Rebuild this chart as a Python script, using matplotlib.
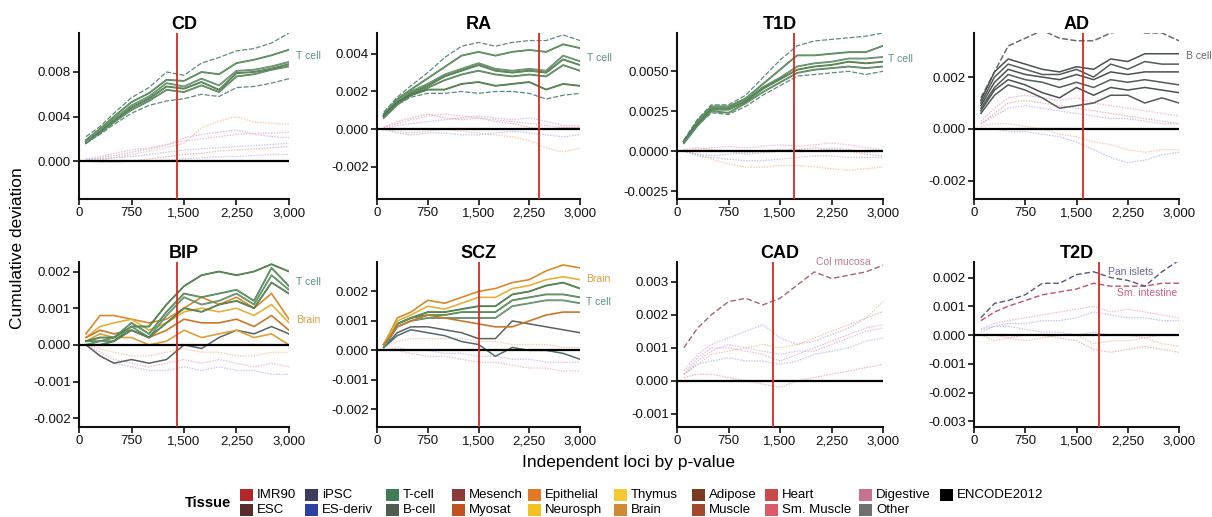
import matplotlib
matplotlib.use("Agg")
import matplotlib.pyplot as plt
from matplotlib.patches import Rectangle

plt.rcParams['font.family'] = ['Liberation Sans', 'DejaVu Sans']

# ---------------- data ----------------
X_LOCI = [100, 300, 500, 750, 1000, 1250, 1500, 1750, 2000, 2250, 2500, 2750, 3000]
X_TICKS = [0, 750, 1500, 2250, 3000]
X_TICK_LABELS = ["0", "750", "1,500", "2,250", "3,000"]

TITLES = ["CD", "RA", "T1D", "AD", "BIP", "SCZ", "CAD", "T2D"]
CUTOFFS = [1400, 2400, 1700, 1600, 1400, 1500, 1400, 1825]

Y_TICKS = [
    [0.0, 0.004, 0.008],
    [-0.002, 0.0, 0.002, 0.004],
    [-0.0025, 0.0, 0.0025, 0.005],
    [-0.002, 0.0, 0.002],
    [-0.002, -0.001, 0.0, 0.001, 0.002],
    [-0.002, -0.001, 0.0, 0.001, 0.002],
    [-0.001, 0.0, 0.001, 0.002, 0.003],
    [-0.003, -0.002, -0.001, 0.0, 0.001, 0.002],
]
Y_TICK_LABELS = [
    ["0.000", "0.004", "0.008"],
    ["-0.002", "0.000", "0.002", "0.004"],
    ["-0.0025", "0.0000", "0.0025", "0.0050"],
    ["-0.002", "0.000", "0.002"],
    ["-0.002", "-0.001", "0.000", "0.001", "0.002"],
    ["-0.002", "-0.001", "0.000", "0.001", "0.002"],
    ["-0.001", "0.000", "0.001", "0.002", "0.003"],
    ["-0.003", "-0.002", "-0.001", "0.000", "0.001", "0.002"],
]

# CD
cd_tcell = [
    [0.0022, 0.0031, 0.0043, 0.0057, 0.0066, 0.0080, 0.0077, 0.0088, 0.0093, 0.0099, 0.0101, 0.0106, 0.0115],
    [0.0019, 0.0029, 0.0040, 0.0053, 0.0061, 0.0073, 0.0072, 0.0080, 0.0078, 0.0088, 0.0091, 0.0095, 0.0100],
    [0.0017, 0.0027, 0.0038, 0.0050, 0.0058, 0.0070, 0.0067, 0.0074, 0.0068, 0.0081, 0.0082, 0.0085, 0.0089],
    [0.0016, 0.0026, 0.0036, 0.0048, 0.0056, 0.0067, 0.0065, 0.0071, 0.0064, 0.0079, 0.0080, 0.0083, 0.0087],
    [0.0017, 0.0025, 0.0035, 0.0046, 0.0054, 0.0064, 0.0062, 0.0068, 0.0062, 0.0076, 0.0078, 0.0082, 0.0085],
    [0.0016, 0.0024, 0.0033, 0.0043, 0.0050, 0.0054, 0.0056, 0.0060, 0.0058, 0.0066, 0.0067, 0.0070, 0.0074],
]
cd_other = [
    [0.0002, 0.0004, 0.0007, 0.0010, 0.0012, 0.0015, 0.0018, 0.0020, 0.0022, 0.0024, 0.0025, 0.0025, 0.0026],
    [0.0001, 0.0003, 0.0005, 0.0008, 0.0011, 0.0014, 0.0021, 0.0024, 0.0026, 0.0028, 0.0024, 0.0022, 0.0021],
    [0.0000, 0.0001, 0.0003, 0.0006, 0.0009, 0.0012, 0.0016, 0.0030, 0.0036, 0.0040, 0.0035, 0.0034, 0.0033],
    [0.0001, 0.0002, 0.0003, 0.0004, 0.0006, 0.0008, 0.0010, 0.0011, 0.0012, 0.0013, 0.0014, 0.0015, 0.0016],
    [0.0000, 0.0000, -0.0001, 0.0000, 0.0002, 0.0004, 0.0006, 0.0007, 0.0009, 0.0010, 0.0011, 0.0012, 0.0013],
    [0.0000, -0.0001, -0.0001, 0.0000, 0.0000, 0.0001, 0.0002, 0.0003, 0.0004, 0.0004, 0.0005, 0.0006, 0.0006],
]

# RA
ra_tcell = [
    [0.0009, 0.0017, 0.0023, 0.0030, 0.0038, 0.0044, 0.0046, 0.0044, 0.0046, 0.0047, 0.0047, 0.0050, 0.0047],
    [0.0008, 0.0016, 0.0021, 0.0027, 0.0033, 0.0039, 0.0041, 0.0039, 0.0041, 0.0042, 0.0041, 0.0045, 0.0043],
    [0.0007, 0.0015, 0.0020, 0.0024, 0.0029, 0.0032, 0.0035, 0.0032, 0.0031, 0.0032, 0.0031, 0.0039, 0.0036],
    [0.0007, 0.0014, 0.0019, 0.0023, 0.0028, 0.0031, 0.0034, 0.0031, 0.0030, 0.0031, 0.0030, 0.0037, 0.0034],
    [0.0006, 0.0013, 0.0018, 0.0022, 0.0026, 0.0029, 0.0031, 0.0029, 0.0028, 0.0029, 0.0028, 0.0034, 0.0031],
    [0.0007, 0.0014, 0.0018, 0.0021, 0.0021, 0.0024, 0.0025, 0.0023, 0.0024, 0.0025, 0.0021, 0.0024, 0.0023],
    [0.0006, 0.0013, 0.0017, 0.0019, 0.0019, 0.0020, 0.0019, 0.0020, 0.0020, 0.0019, 0.0016, 0.0018, 0.0019],
]
ra_other = [
    [0.0001, 0.0003, 0.0005, 0.0007, 0.0008, 0.0007, 0.0006, 0.0005, 0.0004, 0.0003, 0.0002, 0.0001, 0.0001],
    [0.0000, 0.0002, 0.0003, 0.0004, 0.0005, 0.0006, 0.0007, 0.0006, 0.0005, 0.0006, 0.0004, 0.0002, 0.0002],
    [0.0000, -0.0001, -0.0002, -0.0001, 0.0000, -0.0001, -0.0002, -0.0003, -0.0004, -0.0006, -0.0010, -0.0012, -0.0010],
    [0.0000, -0.0002, -0.0003, -0.0002, -0.0002, -0.0003, -0.0003, -0.0002, -0.0001, -0.0002, -0.0003, -0.0004, -0.0003],
    [0.0001, 0.0004, 0.0006, 0.0008, 0.0006, 0.0005, 0.0006, 0.0004, 0.0003, 0.0001, 0.0000, 0.0001, 0.0001],
]

# T1D
t1d_tcell = [
    [0.0007, 0.0020, 0.0029, 0.0029, 0.0035, 0.0046, 0.0057, 0.0066, 0.0069, 0.0070, 0.0071, 0.0072, 0.0074],
    [0.0006, 0.0019, 0.0028, 0.0028, 0.0033, 0.0042, 0.0051, 0.0060, 0.0060, 0.0061, 0.0062, 0.0062, 0.0066],
    [0.0006, 0.0018, 0.0027, 0.0027, 0.0032, 0.0040, 0.0046, 0.0053, 0.0055, 0.0056, 0.0058, 0.0058, 0.0059],
    [0.0006, 0.0017, 0.0026, 0.0026, 0.0031, 0.0039, 0.0045, 0.0051, 0.0053, 0.0054, 0.0056, 0.0055, 0.0056],
    [0.0005, 0.0016, 0.0025, 0.0024, 0.0030, 0.0037, 0.0043, 0.0049, 0.0051, 0.0052, 0.0053, 0.0052, 0.0053],
    [0.0005, 0.0016, 0.0024, 0.0023, 0.0028, 0.0035, 0.0041, 0.0047, 0.0048, 0.0049, 0.0050, 0.0048, 0.0050],
]
t1d_other = [
    [0.0000, 0.0001, 0.0002, 0.0003, 0.0002, 0.0003, 0.0004, 0.0003, 0.0004, 0.0005, 0.0004, 0.0002, 0.0001],
    [0.0000, -0.0003, -0.0004, -0.0005, -0.0006, -0.0006, -0.0005, -0.0004, -0.0003, -0.0003, -0.0004, -0.0004, -0.0004],
    [0.0000, -0.0002, -0.0005, -0.0008, -0.0010, -0.0010, -0.0009, -0.0009, -0.0010, -0.0011, -0.0012, -0.0011, -0.0010],
    [0.0000, -0.0002, -0.0003, -0.0002, -0.0001, 0.0000, 0.0001, 0.0001, 0.0000, 0.0002, 0.0001, -0.0001, 0.0000],
    [0.0001, 0.0002, 0.0001, 0.0000, -0.0002, -0.0001, 0.0000, 0.0001, 0.0002, 0.0001, 0.0000, -0.0002, -0.0003],
]

# AD
ad_bcell = [
    [0.0012, 0.0022, 0.0032, 0.0035, 0.0038, 0.0035, 0.0034, 0.0034, 0.0037, 0.0038, 0.0037, 0.0037, 0.0034],
    [0.0011, 0.0022, 0.0027, 0.0025, 0.0023, 0.0022, 0.0024, 0.0023, 0.0027, 0.0026, 0.0029, 0.0029, 0.0029],
    [0.0010, 0.0020, 0.0025, 0.0023, 0.0021, 0.0021, 0.0023, 0.0020, 0.0025, 0.0023, 0.0026, 0.0025, 0.0025],
    [0.0009, 0.0018, 0.0023, 0.0021, 0.0020, 0.0019, 0.0021, 0.0019, 0.0022, 0.0021, 0.0022, 0.0022, 0.0022],
    [0.0008, 0.0016, 0.0021, 0.0019, 0.0018, 0.0016, 0.0018, 0.0016, 0.0019, 0.0018, 0.0019, 0.0018, 0.0017],
    [0.0007, 0.0015, 0.0019, 0.0017, 0.0014, 0.0012, 0.0016, 0.0013, 0.0016, 0.0015, 0.0016, 0.0015, 0.0014],
    [0.0006, 0.0013, 0.0017, 0.0015, 0.0012, 0.0008, 0.0009, 0.0010, 0.0013, 0.0013, 0.0010, 0.0012, 0.0010],
]
ad_other = [
    [0.0003, 0.0008, 0.0012, 0.0013, 0.0012, 0.0011, 0.0012, 0.0010, 0.0009, 0.0008, 0.0007, 0.0006, 0.0005],
    [0.0002, 0.0005, 0.0008, 0.0009, 0.0008, 0.0007, 0.0006, 0.0005, 0.0004, 0.0004, 0.0003, 0.0002, 0.0002],
    [0.0001, 0.0002, 0.0002, 0.0001, 0.0000, -0.0002, -0.0003, -0.0005, -0.0006, -0.0008, -0.0009, -0.0008, -0.0008],
    [0.0000, 0.0000, -0.0001, -0.0001, -0.0002, -0.0003, -0.0005, -0.0008, -0.0011, -0.0013, -0.0012, -0.0010, -0.0009],
    [0.0002, 0.0006, 0.0010, 0.0011, 0.0010, 0.0009, 0.0008, 0.0007, 0.0006, 0.0005, 0.0004, 0.0003, 0.0002],
]

# BIP
bip_tcell = [
    [0.0001, 0.0002, 0.0002, 0.0005, 0.0005, 0.0011, 0.0016, 0.0019, 0.0020, 0.0019, 0.0020, 0.0022, 0.0020],
    [0.0001, 0.0001, 0.0002, 0.0006, 0.0003, 0.0009, 0.0014, 0.0013, 0.0014, 0.0015, 0.0012, 0.0021, 0.0016],
    [0.0000, 0.0001, 0.0001, 0.0005, 0.0002, 0.0008, 0.0013, 0.0011, 0.0012, 0.0014, 0.0011, 0.0019, 0.0015],
    [0.0000, 0.0000, 0.0001, 0.0004, 0.0002, 0.0006, 0.0010, 0.0009, 0.0011, 0.0012, 0.0010, 0.0017, 0.0014],
]
bip_brain = [
    [0.0003, 0.0008, 0.0008, 0.0007, 0.0006, 0.0007, 0.0010, 0.0013, 0.0011, 0.0013, 0.0010, 0.0014, 0.0007],
    [0.0002, 0.0005, 0.0006, 0.0007, 0.0004, 0.0006, 0.0009, 0.0010, 0.0009, 0.0010, 0.0008, 0.0011, 0.0006],
    [0.0002, 0.0004, 0.0003, 0.0004, 0.0002, 0.0004, 0.0007, 0.0006, 0.0006, 0.0007, 0.0005, 0.0008, 0.0004],
    [0.0001, 0.0003, 0.0002, 0.0002, 0.0000, 0.0001, 0.0004, 0.0002, 0.0003, 0.0004, 0.0002, 0.0003, 0.0000],
]
bip_dark = [
    [0.0000, -0.0003, -0.0005, -0.0004, -0.0005, -0.0004, 0.0000, -0.0001, 0.0002, 0.0004, 0.0003, 0.0005, 0.0003],
]
bip_other = [
    [0.0000, -0.0002, -0.0004, -0.0005, -0.0006, -0.0005, -0.0004, -0.0005, -0.0004, -0.0005, -0.0006, -0.0005, -0.0006],
    [0.0000, -0.0003, -0.0005, -0.0006, -0.0007, -0.0007, -0.0006, -0.0007, -0.0006, -0.0007, -0.0007, -0.0008, -0.0008],
    [0.0000, -0.0001, -0.0002, -0.0003, -0.0003, -0.0002, -0.0001, -0.0002, -0.0002, -0.0003, -0.0003, -0.0002, -0.0002],
]

# SCZ
scz_brain = [
    [0.0002, 0.0011, 0.0013, 0.0017, 0.0016, 0.0018, 0.0020, 0.0021, 0.0023, 0.0024, 0.0027, 0.0029, 0.0028],
    [0.0002, 0.0010, 0.0012, 0.0015, 0.0014, 0.0016, 0.0018, 0.0018, 0.0021, 0.0022, 0.0024, 0.0025, 0.0024],
    [0.0002, 0.0008, 0.0010, 0.0012, 0.0011, 0.0010, 0.0009, 0.0008, 0.0008, 0.0010, 0.0012, 0.0013, 0.0013],
]
scz_tcell = [
    [0.0002, 0.0009, 0.0011, 0.0013, 0.0013, 0.0014, 0.0015, 0.0015, 0.0019, 0.0020, 0.0022, 0.0023, 0.0021],
    [0.0002, 0.0009, 0.0011, 0.0012, 0.0012, 0.0013, 0.0013, 0.0013, 0.0017, 0.0018, 0.0019, 0.0019, 0.0018],
    [0.0001, 0.0008, 0.0010, 0.0011, 0.0011, 0.0011, 0.0011, 0.0011, 0.0015, 0.0016, 0.0017, 0.0017, 0.0016],
]
scz_dark = [
    [0.0001, 0.0006, 0.0008, 0.0008, 0.0007, 0.0006, 0.0004, 0.0004, 0.0010, 0.0009, 0.0008, 0.0007, 0.0006],
    [0.0001, 0.0005, 0.0007, 0.0006, 0.0005, 0.0003, 0.0002, -0.0002, 0.0001, 0.0000, 0.0000, -0.0001, -0.0003],
]
scz_other = [
    [0.0000, 0.0000, -0.0001, -0.0002, -0.0002, -0.0003, -0.0004, -0.0004, -0.0005, -0.0006, -0.0006, -0.0007, -0.0007],
    [0.0000, 0.0001, 0.0000, 0.0000, -0.0001, -0.0001, -0.0002, -0.0002, -0.0003, -0.0003, -0.0004, -0.0004, -0.0004],
    [0.0001, 0.0003, 0.0004, 0.0004, 0.0004, 0.0004, 0.0003, 0.0003, 0.0002, 0.0002, 0.0002, 0.0001, 0.0001],
]

# CAD
cad_col_mucosa = [
    [0.0010, 0.0016, 0.0020, 0.0024, 0.0025, 0.0023, 0.0025, 0.0029, 0.0033, 0.0031, 0.0032, 0.0033, 0.0035],
]
cad_other = [
    [0.0002, 0.0007, 0.0010, 0.0010, 0.0009, 0.0008, 0.0006, 0.0008, 0.0010, 0.0012, 0.0014, 0.0016, 0.0017],
    [0.0003, 0.0008, 0.0011, 0.0013, 0.0015, 0.0017, 0.0013, 0.0011, 0.0012, 0.0014, 0.0016, 0.0019, 0.0021],
    [0.0002, 0.0005, 0.0008, 0.0009, 0.0010, 0.0011, 0.0010, 0.0011, 0.0013, 0.0015, 0.0017, 0.0019, 0.0024],
    [0.0002, 0.0005, 0.0006, 0.0007, 0.0006, 0.0006, 0.0005, 0.0006, 0.0008, 0.0009, 0.0010, 0.0012, 0.0013],
    [0.0001, 0.0002, 0.0002, 0.0001, 0.0000, -0.0001, -0.0002, 0.0000, 0.0001, 0.0002, 0.0003, 0.0004, 0.0005],
    [0.0002, 0.0006, 0.0009, 0.0011, 0.0010, 0.0009, 0.0008, 0.0009, 0.0009, 0.0011, 0.0013, 0.0015, 0.0016],
]

# T2D
t2d_pan_islets = [
    [0.0006, 0.0011, 0.0012, 0.0014, 0.0018, 0.0018, 0.0021, 0.0022, 0.0020, 0.0019, 0.0017, 0.0022, 0.0026],
]
t2d_sm_intestine = [
    [0.0005, 0.0008, 0.0010, 0.0012, 0.0014, 0.0015, 0.0016, 0.0018, 0.0017, 0.0017, 0.0017, 0.0018, 0.0018],
]
t2d_other = [
    [0.0002, 0.0004, 0.0005, 0.0006, 0.0007, 0.0008, 0.0009, 0.0010, 0.0008, 0.0009, 0.0008, 0.0007, 0.0006],
    [0.0002, 0.0003, 0.0003, 0.0002, 0.0001, 0.0001, 0.0000, 0.0001, 0.0000, 0.0000, -0.0001, 0.0000, 0.0000],
    [0.0000, -0.0002, -0.0001, -0.0002, -0.0001, 0.0000, 0.0000, -0.0003, -0.0002, -0.0002, -0.0001, -0.0003, -0.0004],
    [0.0001, 0.0003, 0.0004, 0.0004, 0.0005, 0.0005, 0.0006, 0.0008, 0.0007, 0.0006, 0.0006, 0.0005, 0.0005],
    [0.0000, 0.0000, -0.0001, 0.0000, 0.0000, -0.0001, -0.0002, -0.0005, -0.0006, -0.0005, -0.0004, -0.0005, -0.0006],
]

LEGEND_LABELS = ["IMR90", "ESC", "iPSC", "ES-deriv", "T-cell", "B-cell", "Mesench", "Myosat",
                 "Epithelial", "Neurosph", "Thymus", "Brain", "Adipose", "Muscle", "Heart",
                 "Sm. Muscle", "Digestive", "Other", "ENCODE2012"]
LEGEND_COLORS = ["#b3262a", "#5a2b2b", "#3d3b5e", "#2b40a3", "#3f7d52", "#4d5e4f", "#8c3b3b", "#c2521f",
                 "#e07a24", "#f2c21e", "#f4c932", "#d08a34", "#7b3b22", "#a44a2c", "#c94a48",
                 "#d95b6c", "#c77292", "#707070", "#000000"]

# ---------------- styles ----------------
TCELL_COLORS = ["#2f6b3c", "#3b7d52", "#4d8470", "#356d45", "#3f7a5a", "#2f6b3c", "#3b7d52"]
BCELL_COLORS = ["#6a6f6e", "#4b5150", "#555b5a", "#4b5150", "#555b5a", "#4b5150", "#555b5a"]
BRAIN_COLORS = ["#d98a2a", "#e3b13a", "#c8782a", "#dda03a"]
DARK_COLORS = ["#5a6260", "#4f6a70"]
BG_COLORS = ["#e9a7cb", "#c6aee3", "#f1bb8f", "#aab8e8", "#e7a3a3", "#d4b2dc"]

W, H = 1212, 517
fig = plt.figure(figsize=(W / 100, H / 100), dpi=100)

col_px = [(79, 289), (377, 580), (677, 883), (974, 1179)]
row_px = [(33, 199), (262, 427)]
ylims = [(-0.0034, 0.0115), (-0.0037, 0.0051), (-0.003, 0.0074), (-0.0027, 0.0037),
         (-0.00224, 0.00226), (-0.0026, 0.0030), (-0.0014, 0.0036), (-0.0032, 0.00254)]

panel_groups = [
    [("other", cd_other), ("tcell", cd_tcell)],
    [("other", ra_other), ("tcell", ra_tcell)],
    [("other", t1d_other), ("tcell", t1d_tcell)],
    [("other", ad_other), ("bcell", ad_bcell)],
    [("other", bip_other), ("dark", bip_dark), ("brain", bip_brain), ("tcell", bip_tcell)],
    [("other", scz_other), ("dark", scz_dark), ("tcell", scz_tcell), ("brain", scz_brain)],
    [("other", cad_other), ("col", cad_col_mucosa)],
    [("other", t2d_other), ("smint", t2d_sm_intestine), ("islet", t2d_pan_islets)],
]

side_labels = [
    [("T cell", 3100, 0.0094, "#5f8f86")],
    [("T cell", 3100, 0.0038, "#5f8f86")],
    [("T cell", 3080, 0.0058, "#5f8f86")],
    [("B cell", 3100, 0.00282, "#6a6a6a")],
    [("T cell", 3100, 0.00172, "#5f8f86"), ("Brain", 3100, 0.00068, "#d9a040")],
    [("Brain", 3090, 0.00244, "#d9a040"), ("T cell", 3090, 0.00163, "#5f8f86")],
    [("Col mucosa", 2030, 0.0036, "#c07a92")],
    [("Pan islets", 1960, 0.0022, "#6a6a92"), ("Sm. intestine", 2090, 0.00147, "#d06080")],
]

for i in range(8):
    r, c = divmod(i, 4)
    x0, x1 = col_px[c]
    y0, y1 = row_px[r]
    ax = fig.add_axes([x0 / W, 1 - y1 / H, (x1 - x0) / W, (y1 - y0) / H])
    ax.set_xlim(0, 3000)
    ax.set_ylim(*ylims[i])

    for kind, lines in panel_groups[i]:
        for j, vals in enumerate(lines):
            if kind == "other":
                ax.plot(X_LOCI, vals, color=BG_COLORS[j % len(BG_COLORS)], lw=0.9,
                        ls=(0, (1.2, 1.0)), alpha=0.75, zorder=1)
            elif kind == "tcell":
                outer = (j == 0 or j == len(lines) - 1) and len(lines) > 4
                if outer:
                    ax.plot(X_LOCI, vals, color="#5f8a80", lw=0.9, ls=(0, (4, 1.5)), zorder=3)
                else:
                    ax.plot(X_LOCI, vals, color=TCELL_COLORS[j], lw=1.3, zorder=3)
                    ax.plot(X_LOCI, vals, color="#c9c46a", lw=0.4, alpha=0.6, zorder=3)
            elif kind == "bcell":
                ls = (0, (4, 1.5)) if j == 0 else "-"
                ax.plot(X_LOCI, vals, color=BCELL_COLORS[j], lw=1.1, ls=ls, zorder=3)
            elif kind == "brain":
                ax.plot(X_LOCI, vals, color=BRAIN_COLORS[j % 4], lw=1.2, zorder=3)
            elif kind == "dark":
                ax.plot(X_LOCI, vals, color=DARK_COLORS[j % 2], lw=1.1, zorder=2)
            elif kind == "col":
                ax.plot(X_LOCI, vals, color="#a8646e", lw=1.0, ls=(0, (4, 2)), zorder=3)
            elif kind == "islet":
                ax.plot(X_LOCI, vals, color="#55577a", lw=1.0, ls=(0, (4, 2)), zorder=3)
            elif kind == "smint":
                ax.plot(X_LOCI, vals, color="#c2506a", lw=1.0, ls=(0, (4, 2)), zorder=3)

    ax.axhline(0, color="black", lw=1.6, zorder=4)
    ax.axvline(CUTOFFS[i], color="#d42a22", lw=1.3, zorder=5)

    for txt, xv, yv, colr in side_labels[i]:
        ax.text(xv, yv, txt, color=colr, fontsize=7.5, ha="left", va="center", clip_on=False)

    ax.set_title(TITLES[i], fontsize=13, fontweight="bold", pad=3)
    ax.set_xticks(X_TICKS)
    ax.set_xticklabels(X_TICK_LABELS)
    ax.set_yticks(Y_TICKS[i])
    ax.set_yticklabels(Y_TICK_LABELS[i])
    for s in ["top", "right"]:
        ax.spines[s].set_visible(False)
    for s in ["left", "bottom"]:
        ax.spines[s].set_linewidth(1.5)
        ax.spines[s].set_color("#111111")
    ax.tick_params(axis="both", labelsize=9.5, length=4, width=1.2, pad=2, colors="#111111")

fig.text(18 / W, 1 - 248 / H, "Cumulative deviation", rotation=90, fontsize=12.5,
         ha="center", va="center")
fig.text(628 / W, 1 - 462 / H, "Independent loci by p-value", fontsize=12.5,
         ha="center", va="center")

# legend drawn manually on a figure grid
leg_cols_px = [240, 305, 386, 452, 528, 614, 692, 765, 859, 940]
leg_rows_px = [495, 510]
for k, (lab, colr) in enumerate(zip(LEGEND_LABELS, LEGEND_COLORS)):
    cidx, ridx = divmod(k, 2)
    px = leg_cols_px[cidx]
    py = leg_rows_px[ridx]
    fig.add_artist(Rectangle((px / W, 1 - (py + 6) / H), 13 / W, 12 / H,
                             transform=fig.transFigure, facecolor=colr, edgecolor="none"))
    fig.text((px + 17) / W, 1 - py / H, lab, fontsize=9.5, ha="left", va="center")
fig.text(185 / W, 1 - 503 / H, "Tissue", fontsize=10.5, fontweight="bold",
         ha="left", va="center")

fig.savefig("out.png", dpi=100)
